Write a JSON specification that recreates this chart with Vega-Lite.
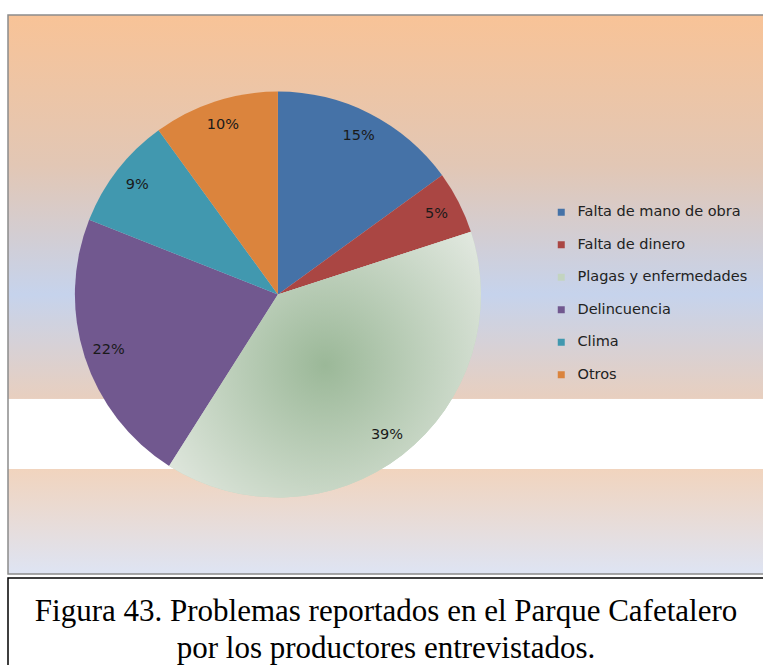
{
  "$schema": "https://vega.github.io/schema/vega-lite/v6.json",
  "padding": {"left": 7, "top": 14, "right": 0, "bottom": 0},
  "spacing": 2,
  "background": "white",
  "config": {
    "font": "DejaVu Sans",
    "concat": {"spacing": 2}
  },
  "vconcat": [
    {
      "width": 756,
      "height": 559,
      "view": {
        "stroke": "#8c8c8c",
        "strokeWidth": 1.5,
        "fill": {
          "gradient": "linear",
          "x1": 0, "y1": 0, "x2": 0, "y2": 1,
          "stops": [
            {"offset": 0, "color": "#F8C397"},
            {"offset": 0.27, "color": "#E2C7B5"},
            {"offset": 0.5, "color": "#C6D3EC"},
            {"offset": 0.686, "color": "#E8CFBF"},
            {"offset": 0.687, "color": "#FFFFFF"},
            {"offset": 0.812, "color": "#FFFFFF"},
            {"offset": 0.813, "color": "#F1D4BE"},
            {"offset": 1, "color": "#DEE4F3"}
          ]
        }
      },
      "data": {
        "values": [
          {"cat": "Falta de mano de obra", "value": 0.15, "idx": 1},
          {"cat": "Falta de dinero", "value": 0.05, "idx": 2},
          {"cat": "Plagas y enfermedades", "value": 0.39, "idx": 3},
          {"cat": "Delincuencia", "value": 0.22, "idx": 4},
          {"cat": "Clima", "value": 0.09, "idx": 5},
          {"cat": "Otros", "value": 0.10, "idx": 6}
        ]
      },
      "layer": [
        {
          "mark": {"type": "arc", "outerRadius": 203, "x": {"expr": "width*0.357"}},
          "encoding": {
            "theta": {"field": "value", "type": "quantitative", "stack": true, "scale": {"domain": [0, 1]}},
            "order": {"field": "idx", "type": "quantitative"},
            "color": {
              "field": "cat",
              "type": "nominal",
              "sort": ["Falta de mano de obra", "Falta de dinero", "Plagas y enfermedades", "Delincuencia", "Clima", "Otros"],
              "scale": {
                "domain": ["Falta de mano de obra", "Falta de dinero", "Plagas y enfermedades", "Delincuencia", "Clima", "Otros"],
                "range": ["#4572A7", "#AA4643", "#C3D4C0", "#71588F", "#4198AF", "#DB843D"]
              },
              "legend": {
                "title": null,
                "orient": "none",
                "legendX": 546,
                "legendY": 190,
                "symbolType": "square",
                "symbolSize": 49,
                "symbolStrokeWidth": 0,
                "labelFont": "DejaVu Sans",
                "labelFontSize": 14.5,
                "labelColor": "#222222",
                "labelOffset": 9,
                "labelLimit": 400,
                "rowPadding": 17.5,
                "padding": 0
              }
            }
          }
        },
        {
          "transform": [
            {"stack": "value", "groupby": [], "sort": [{"field": "idx", "order": "ascending"}], "as": ["v0", "v1"]},
            {"filter": "datum.cat === 'Plagas y enfermedades'"}
          ],
          "mark": {
            "type": "arc",
            "outerRadius": 203,
            "x": {"expr": "width*0.357"},
            "fill": {
              "gradient": "radial",
              "x1": 0.5, "y1": 0.5, "r1": 0,
              "x2": 0.5, "y2": 0.5, "r2": 0.62,
              "stops": [
                {"offset": 0, "color": "#9BB898"},
                {"offset": 1, "color": "#E0E7DE"}
              ]
            }
          },
          "encoding": {
            "theta": {"field": "v0", "type": "quantitative", "scale": {"domain": [0, 1]}},
            "theta2": {"field": "v1"}
          }
        },
        {
          "mark": {"type": "text", "radius": 178, "x": {"expr": "width*0.357"}, "font": "DejaVu Sans", "fontSize": 14.5, "color": "#1a1a1a"},
          "encoding": {
            "theta": {"field": "value", "type": "quantitative", "stack": true, "scale": {"domain": [0, 1]}},
            "order": {"field": "idx", "type": "quantitative"},
            "text": {"field": "value", "type": "quantitative", "format": ".0%"}
          }
        }
      ]
    },
    {
      "width": 756,
      "height": 89,
      "view": {"stroke": "#000000", "strokeWidth": 1.5, "fill": "white"},
      "data": {"values": [{"caption": "Figura 43. Problemas reportados en el Parque Cafetalero"}, {"caption": "por los productores entrevistados."}]},
      "mark": {"type": "text", "font": "Liberation Serif", "fontSize": 31, "color": "#000000", "baseline": "alphabetic", "dy": 17},
      "encoding": {
        "y": {"field": "caption", "type": "nominal", "sort": null, "axis": null, "scale": {"type": "point", "padding": 0.703}},
        "text": {"field": "caption", "type": "nominal"}
      }
    }
  ]
}
